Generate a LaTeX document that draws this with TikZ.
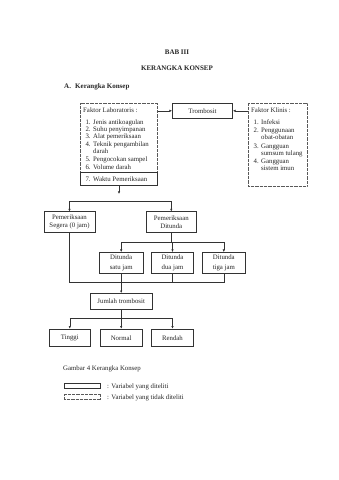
\documentclass[tikz,border=0pt]{standalone}
\usepackage{fontspec}
\setmainfont{Liberation Serif}
\usetikzlibrary{arrows.meta}
\begin{document}
\begin{tikzpicture}[x=1pt,y=-1pt,
  every node/.style={font=\fontsize{6.8}{8.4}\selectfont, text=black!85},
  bx/.style={draw=black!80, line width=0.5pt, rectangle, inner sep=0pt, align=center},
  dotbx/.style={bx, draw=black!65, dash pattern=on 0.6pt off 0.7pt},
  arr/.style={draw=black!80, line width=0.6pt, -{Latex[length=2.6pt,width=2.4pt]}},
  ln/.style={draw=black!80, line width=0.6pt},
  lt/.style={anchor=mid west, inner sep=0pt},
  ttl/.style={inner sep=0pt, font=\fontsize{7}{8.4}\selectfont\bfseries},
]
\useasboundingbox[fill=white] (0,0) rectangle (339,480);

% titles
\node[ttl, anchor=mid] (bab) at (177,52.3) {BAB III};
\node[ttl, anchor=mid] (kk) at (177,68.3) {KERANGKA KONSEP};
\node[ttl, anchor=mid west] (secA) at (64,86.7) {A.\hspace{4.2pt}Kerangka Konsep};

% laboratory factors box
\node[dotbx, minimum width=76.6pt, minimum height=69.4pt] (labU) at (119,138) {};
\node[bx, minimum width=76.6pt, minimum height=12.3pt] (labL) at (119,178.85) {};
\node[lt] (labh) at (83,110.5) {Faktor Laboratoris :};
\node[lt] (ln1) at (85.3,121.8) {1.};
\node[lt] (lt1) at (93,121.8) {Jenis antikoagulan};
\node[lt] (ln2) at (85.3,129.2) {2.};
\node[lt] (lt2) at (93,129.2) {Suhu penyimpanan};
\node[lt] (ln3) at (85.3,136.6) {3.};
\node[lt] (lt3) at (93,136.6) {Alat pemeriksaan};
\node[lt] (ln4) at (85.3,144) {4.};
\node[lt] (lt4) at (93,144) {Teknik pengambilan};
\node[lt] (lt4b) at (93,151.4) {darah};
\node[lt] (ln5) at (85.3,159.5) {5.};
\node[lt] (lt5) at (93,159.5) {Pengocokan sampel};
\node[lt] (ln6) at (85.3,167) {6.};
\node[lt] (lt6) at (93,167) {Volume darah};
\node[lt] (ln7) at (85.3,179.3) {7.};
\node[lt] (lt7) at (93,179.3) {Waktu Pemeriksaan};

% trombosit
\node[bx, minimum width=60.4pt, minimum height=15pt] (trom) at (202.5,110.8) {Trombosit};

% clinical factors box
\node[dotbx, minimum width=59pt, minimum height=82.7pt] (klin) at (277.5,144.65) {};
\node[lt] (klh) at (251,110.5) {Faktor Klinis :};
\node[lt] (kn1) at (253.5,122.5) {1.};
\node[lt] (kt1) at (261,122.5) {Infeksi};
\node[lt] (kn2) at (253.5,130.5) {2.};
\node[lt] (kt2) at (261,130.5) {Penggunaan};
\node[lt] (kt2b) at (261,137.6) {obat-obatan};
\node[lt] (kn3) at (253.5,146) {3.};
\node[lt] (kt3) at (261,146) {Gangguan};
\node[lt] (kt3b) at (261,153.1) {sumsum tulang};
\node[lt] (kn4) at (253.5,161.5) {4.};
\node[lt] (kt4) at (261,161.5) {Gangguan};
\node[lt] (kt4b) at (261,168.6) {sistem imun};

% examination boxes
\node[bx, minimum width=51pt, minimum height=20.6pt] (seg) at (69.5,222) {Pemeriksaan\\Segera (0 jam)};
\node[bx, minimum width=50.7pt, minimum height=20.6pt] (dit) at (171.3,222) {Pemeriksaan\\Ditunda};

\node[bx, minimum width=43.3pt, minimum height=21pt, font=\fontsize{6.8}{10}\selectfont] (d1) at (121.2,262.8) {Ditunda\\satu jam};
\node[bx, minimum width=41.6pt, minimum height=21pt, font=\fontsize{6.8}{10}\selectfont] (d2) at (172.5,262.8) {Ditunda\\dua jam};
\node[bx, minimum width=42.3pt, minimum height=21pt, font=\fontsize{6.8}{10}\selectfont] (d3) at (223.8,262.8) {Ditunda\\tiga jam};

\node[bx, minimum width=61.7pt, minimum height=15.7pt] (jml) at (121.2,301.2) {Jumlah trombosit};

\node[bx, minimum width=41.7pt, minimum height=17.7pt] (tg) at (69.8,337.8) {Tinggi};
\node[bx, minimum width=42pt, minimum height=17.7pt] (nm) at (121.2,337.8) {Normal};
\node[bx, minimum width=41.6pt, minimum height=17.7pt] (rd) at (172.5,337.8) {Rendah};

% coordinates for junctions
\coordinate (labtip) at (119,194);
\coordinate (sp1) at (119,201);
\coordinate (sp2) at (171.3,242.3);
\coordinate (mg) at (121.2,282.7);
\coordinate (sp3) at (121.2,318.7);

% connectors
\draw[arr] (labU.east |- trom.west) -- (trom.west);
\draw[arr] (klin.west |- trom.east) -- (trom.east);
\draw[arr] (labL.south) -- (labtip);
\draw[ln] (seg.north |- sp1) -- (dit.north |- sp1);
\draw[arr] (seg.north |- sp1) -- (seg.north);
\draw[arr] (dit.north |- sp1) -- (dit.north);

\draw[ln] (dit.south) -- (dit.south |- sp2);
\draw[ln] (d1.north |- sp2) -- (d3.north |- sp2);
\draw[arr] (d1.north |- sp2) -- (d1.north);
\draw[arr] (d2.north |- sp2) -- (d2.north);
\draw[arr] (d3.north |- sp2) -- (d3.north);

\draw[ln] (seg.south) -- (seg.south |- mg) -- (d3.south |- mg);
\draw[ln] (d1.south) -- (d1.south |- mg);
\draw[ln] (d2.south) -- (d2.south |- mg);
\draw[ln] (d3.south) -- (d3.south |- mg);
\draw[arr] (mg) -- (jml.north);

\draw[ln] (jml.south) -- (sp3);
\draw[ln] (tg.north |- sp3) -- (rd.north |- sp3);
\draw[arr] (tg.north |- sp3) -- (tg.north);
\draw[arr] (nm.north |- sp3) -- (nm.north);
\draw[arr] (rd.north |- sp3) -- (rd.north);

% caption and legend
\node[lt] (cap) at (63,368) {Gambar 4 Kerangka Konsep};
\node[bx, line width=0.9pt, minimum width=36.7pt, minimum height=5pt] (leg1) at (82.35,385.8) {};
\node[dotbx, line width=0.7pt, minimum width=36.7pt, minimum height=5pt] (leg2) at (82.35,396.8) {};
\node[lt] (leg1t) at (107,385.8) {: Variabel yang diteliti};
\node[lt] (leg2t) at (107,396.8) {: Variabel yang tidak diteliti};
\end{tikzpicture}
\end{document}
